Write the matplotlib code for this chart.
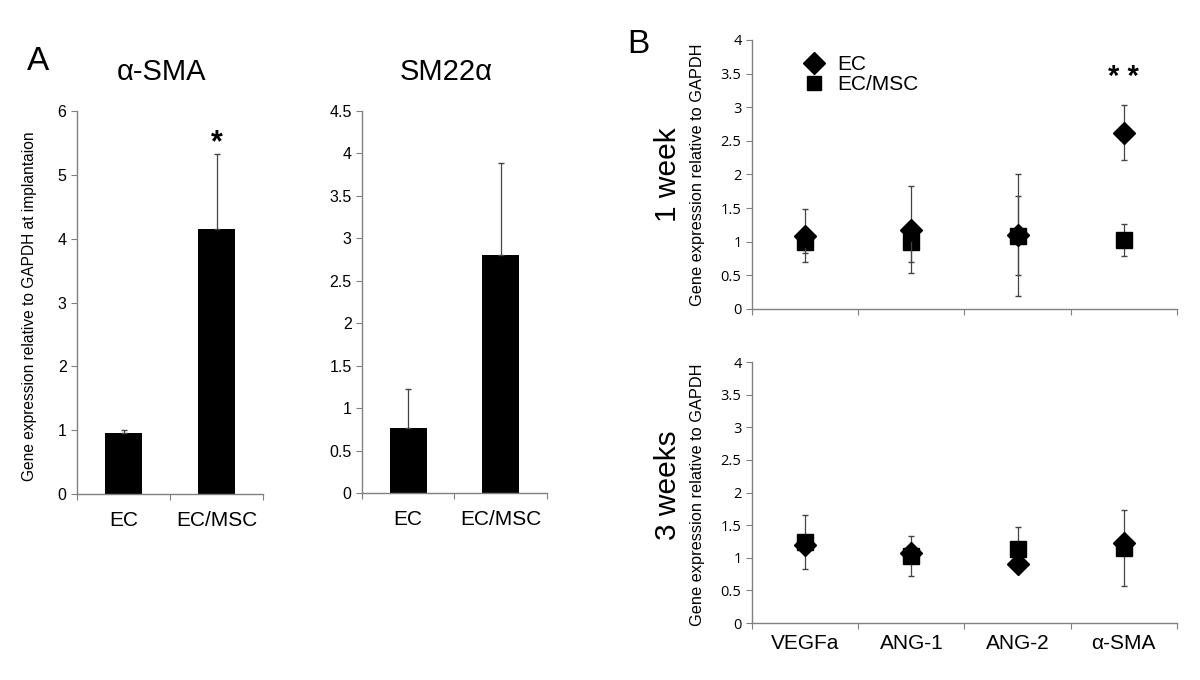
import matplotlib
matplotlib.use("Agg")
import matplotlib.pyplot as plt
from matplotlib.lines import Line2D

plt.rcParams["font.family"] = ["Liberation Sans", "DejaVu Sans"]

# panel A data
groups = ["EC", "EC/MSC"]
sma_vals = [0.96, 4.15]
sma_err = [0.04, 1.18]
sm22_vals = [0.77, 2.80]
sm22_err = [0.45, 1.09]

# panel B data
genes = ["VEGFa", "ANG-1", "ANG-2", "α-SMA"]
wk1_ec = [1.09, 1.18, 1.10, 2.62]
wk1_ec_err = [0.39, 0.65, 0.90, 0.41]
wk1_msc = [1.00, 1.00, 1.09, 1.03]
wk1_msc_err = [0.17, 0.30, 0.59, 0.24]
wk3_ec = [1.20, 1.07, 0.90, 1.23]
wk3_ec_err = [0.02, 0.02, 0.02, 0.02]
wk3_msc = [1.24, 1.03, 1.14, 1.15]
wk3_msc_err = [0.41, 0.31, 0.33, 0.58]

spine_col = "#808080"

fig = plt.figure(figsize=(12, 6.8), dpi=100)


def style_axes(ax, n, ymax, step, tick_font, tick_size):
    for s in ["top", "right"]:
        ax.spines[s].set_visible(False)
    for s in ["left", "bottom"]:
        ax.spines[s].set_color(spine_col)
        ax.spines[s].set_linewidth(1)
    ax.set_xlim(-0.5, n - 0.5)
    ax.set_ylim(0, ymax)
    yt = [i * step for i in range(int(round(ymax / step)) + 1)]
    ax.set_yticks(yt)
    ax.set_yticklabels([("%g" % v) for v in yt])
    ax.set_xticks([i - 0.5 for i in range(n + 1)])
    ax.set_xticklabels([])
    ax.set_xticks(range(n), minor=True)
    ax.tick_params(axis="both", which="major", direction="out", color=spine_col,
                   length=4)
    ax.tick_params(axis="y", which="major", labelsize=tick_size,
                   labelfontfamily=tick_font)
    ax.tick_params(axis="x", which="minor", length=0, labelsize=15, pad=12)


# CHART A left: alpha-SMA bars
ax1 = fig.add_axes([0.0642, 0.2735, 0.155, 0.5632])
ax1.bar(range(2), sma_vals, width=0.4, color="black")
ax1.errorbar(range(2), sma_vals, yerr=[[0, 0], sma_err], fmt="none",
             ecolor="#444444", elinewidth=0.9, capsize=2.5)
style_axes(ax1, 2, 6, 1, "Liberation Sans", 11.5)
ax1.set_xticklabels(groups, minor=True)
ax1.text(1, 5.5, "*", ha="center", va="center", fontsize=22, fontweight="bold")

# CHART A right: SM22alpha bars
ax2 = fig.add_axes([0.3017, 0.2750, 0.154, 0.5618])
ax2.bar(range(2), sm22_vals, width=0.4, color="black")
ax2.errorbar(range(2), sm22_vals, yerr=[[0, 0], sm22_err], fmt="none",
             ecolor="#444444", elinewidth=0.9, capsize=2.5)
style_axes(ax2, 2, 4.5, 0.5, "Liberation Sans", 11.5)
ax2.set_xticklabels(groups, minor=True)

fig.text(0.032, 0.909, "A", fontsize=24, ha="center", va="center")
fig.text(0.135, 0.894, "α-SMA", fontsize=21, ha="center", va="center")
fig.text(0.372, 0.894, "SM22α", fontsize=21, ha="center", va="center")
fig.text(0.025, 0.549, "Gene expression relative to GAPDH at implantaion",
         fontsize=11.2, rotation=90, ha="center", va="center")


# CHART B: time points
def draw_points(ax, ec, ec_err, msc, msc_err):
    x = range(len(genes))
    ax.errorbar(x, msc, yerr=msc_err, fmt="s", color="black", markersize=11,
                ecolor="#444444", elinewidth=0.9, capsize=2.5, zorder=3)
    ax.errorbar(x, ec, yerr=ec_err, fmt="D", color="black", markersize=11,
                ecolor="#444444", elinewidth=0.9, capsize=2.5, zorder=4)


ax3 = fig.add_axes([0.6267, 0.5456, 0.354, 0.3956])
draw_points(ax3, wk1_ec, wk1_ec_err, wk1_msc, wk1_msc_err)
style_axes(ax3, 4, 4, 0.5, "Open Sans", 10.5)
ax3.text(3, 3.45, "* *", ha="center", va="center", fontsize=21, fontweight="bold")
handles = [Line2D([], [], marker="D", color="black", linestyle="none", markersize=11),
           Line2D([], [], marker="s", color="black", linestyle="none", markersize=10)]
ax3.legend(handles, ["EC", "EC/MSC"], loc="upper left", bbox_to_anchor=(0.102, 0.975),
           frameon=False, fontsize=15, handlelength=1, handletextpad=0.6,
           labelspacing=0.05, borderaxespad=0)

ax4 = fig.add_axes([0.6267, 0.0838, 0.354, 0.3838])
draw_points(ax4, wk3_ec, wk3_ec_err, wk3_msc, wk3_msc_err)
style_axes(ax4, 4, 4, 0.5, "Open Sans", 10.5)
ax4.set_xticklabels(genes, minor=True)
ax4.tick_params(axis="x", which="minor", pad=8)

fig.text(0.532, 0.934, "B", fontsize=24, ha="center", va="center")
fig.text(0.557, 0.743, "1 week", fontsize=21.5, rotation=90, ha="center", va="center")
fig.text(0.557, 0.287, "3 weeks", fontsize=21.5, rotation=90, ha="center", va="center")
fig.text(0.581, 0.743, "Gene expression relative to GAPDH", fontsize=11.8,
         rotation=90, ha="center", va="center")
fig.text(0.581, 0.273, "Gene expression relative to GAPDH", fontsize=11.8,
         rotation=90, ha="center", va="center")

plt.savefig("out.png")
